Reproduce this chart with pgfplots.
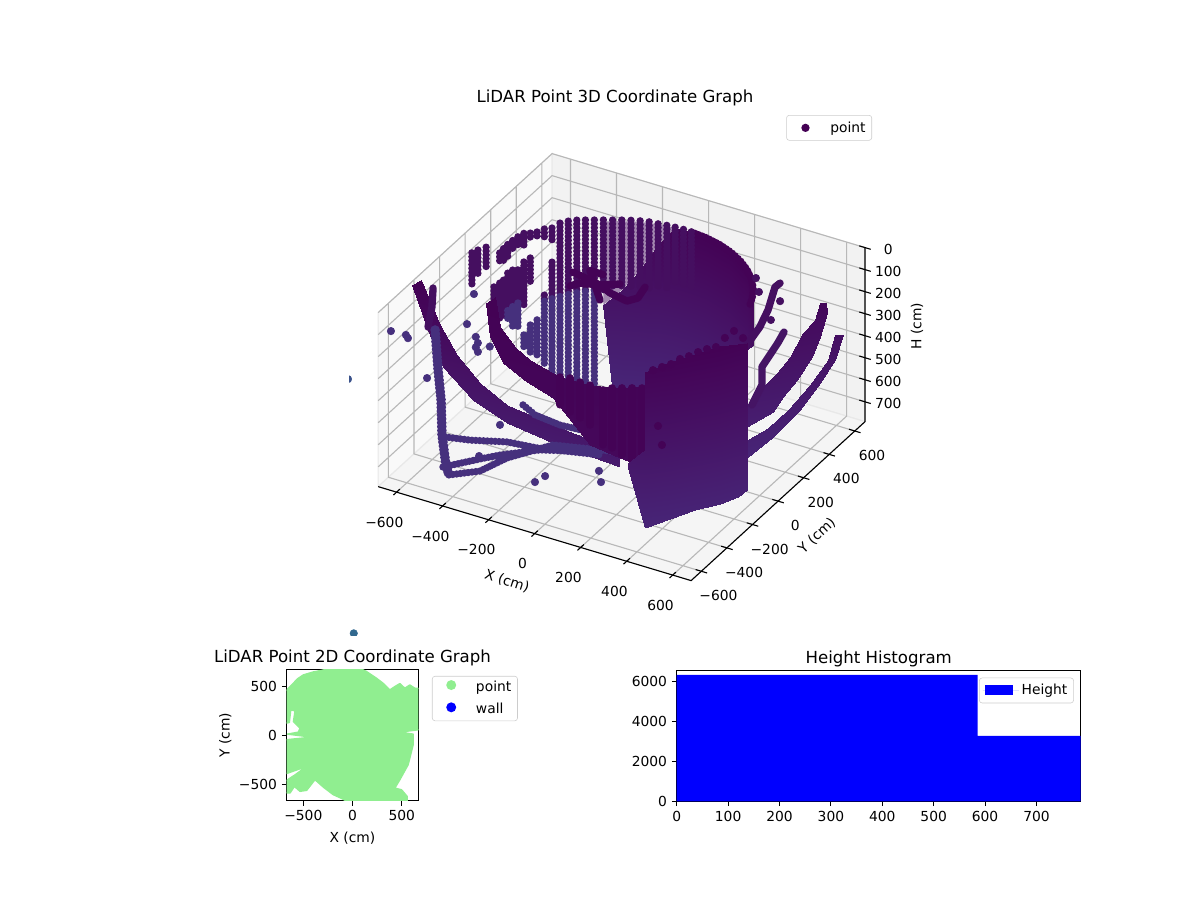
\documentclass[border=0pt]{standalone}
\usepackage{fontspec}
\setmainfont{DejaVu Sans}
\usepackage{pgfplots}
\pgfplotsset{compat=1.18}
\definecolor{vA}{RGB}{69,15,96}
\definecolor{vB}{RGB}{70,48,125}
\definecolor{vC}{RGB}{68,3,86}
\definecolor{vD}{RGB}{67,58,131}
\definecolor{gridc}{HTML}{B8B8B8}
\definecolor{lgreen}{RGB}{144,238,144}
\definecolor{vL}{RGB}{68,1,84}
\newcommand{\mpl}{\fontsize{10}{12}\selectfont}
\newcommand{\mplt}{\fontsize{12}{14}\selectfont}
\pgfplotsset{
 room/.style={
  x={(0.16629pt,-0.04994pt)},y={(0.09243pt,0.08448pt)},z={(0pt,-0.15921pt)},
  xmin=-680,xmax=680,ymin=-680,ymax=680,zmin=0,zmax=790,
  at={(6.216in,6.199in)},anchor=origin,clip=false},
 dots/.style={line width=5.3pt,line cap=round,dash pattern=on 0pt off 2.8pt,unbounded coords=jump},
 band/.style={surf,shader=interp,mesh/rows=2,point meta=z},
 stroke/.style={line width=5.3pt,line cap=round,line join=round},
 scat/.style={only marks,mark=*,mark size=2.7pt,mark options={draw=none}},
 flat2d/.style={scale only axis,tick align=outside,
  tick style={black,line width=0.8pt},major tick length=3.5pt,
  axis line style={line width=0.8pt},
  xtick pos=bottom,ytick pos=left,
  tick label style={font=\mpl},label style={font=\mpl},title style={font=\mplt,yshift=-7pt}},
 lbox/.style={font=\mpl,draw=black!20,rounded corners=2pt,inner xsep=2.5pt,inner ysep=1.5pt,legend cell align=left},
}
\newcommand{\legdot}[2]{\addlegendimage{legend image code/.code={\path[draw=none] (0,0) -- (0.375in,0);\fill[#1,draw=none,sharp corners] (0.155in,0) circle (#2);}}}
\begin{document}
\begin{tikzpicture}
\path (0,0) rectangle (12in,9in);
\begin{scope}
\clip (3.49in,2.64in) rectangle (12in,9in);
% panes and grid
\begin{axis}[room,hide axis]
\addplot3[fill=black!2.5,draw=black!9,line width=0.8pt] coordinates {(-680,-680,790)(-680,680,790)(-680,680,0)(-680,-680,0)(-680,-680,790)};
\addplot3[fill=black!5,draw=black!9,line width=0.8pt] coordinates {(-680,680,790)(680,680,790)(680,680,0)(-680,680,0)(-680,680,790)};
\addplot3[fill=black!4,draw=black!9,line width=0.8pt] coordinates {(-680,-680,790)(680,-680,790)(680,680,790)(-680,680,790)(-680,-680,790)};
\addplot3[gridc,line width=0.8pt,unbounded coords=jump] coordinates {
(-600,-680,790)(-600,680,790)(-600,680,0)(nan,nan,nan)
(-400,-680,790)(-400,680,790)(-400,680,0)(nan,nan,nan)
(-200,-680,790)(-200,680,790)(-200,680,0)(nan,nan,nan)
(0,-680,790)(0,680,790)(0,680,0)(nan,nan,nan)
(200,-680,790)(200,680,790)(200,680,0)(nan,nan,nan)
(400,-680,790)(400,680,790)(400,680,0)(nan,nan,nan)
(600,-680,790)(600,680,790)(600,680,0)(nan,nan,nan)
(680,-600,790)(-680,-600,790)(-680,-600,0)(nan,nan,nan)
(680,-400,790)(-680,-400,790)(-680,-400,0)(nan,nan,nan)
(680,-200,790)(-680,-200,790)(-680,-200,0)(nan,nan,nan)
(680,0,790)(-680,0,790)(-680,0,0)(nan,nan,nan)
(680,200,790)(-680,200,790)(-680,200,0)(nan,nan,nan)
(680,400,790)(-680,400,790)(-680,400,0)(nan,nan,nan)
(680,600,790)(-680,600,790)(-680,600,0)(nan,nan,nan)
(-680,-680,0)(-680,680,0)(680,680,0)(nan,nan,nan)
(-680,-680,100)(-680,680,100)(680,680,100)(nan,nan,nan)
(-680,-680,200)(-680,680,200)(680,680,200)(nan,nan,nan)
(-680,-680,300)(-680,680,300)(680,680,300)(nan,nan,nan)
(-680,-680,400)(-680,680,400)(680,680,400)(nan,nan,nan)
(-680,-680,500)(-680,680,500)(680,680,500)(nan,nan,nan)
(-680,-680,600)(-680,680,600)(680,680,600)(nan,nan,nan)
(-680,-680,700)(-680,680,700)(680,680,700)
};
\end{axis}
% data and ticks
\begin{axis}[room,
  colormap={vd}{rgb255(0cm)=(68,1,84); rgb255(1cm)=(72,40,122)},
  point meta min=0,point meta max=850,
  axis line style={draw=none},
  xtick={-600,-400,-200,0,200,400,600},
  xticklabels={−600,−400,−200,0,200,400,600},
  ytick={-600,-400,-200,0,200,400,600},
  yticklabels={−600,−400,−200,0,200,400,600},
  ztick={0,100,200,300,400,500,600,700},
  zticklabels={0,100,200,300,400,500,600,700},
  xtick pos=left,ytick pos=left,ztick pos=right,
  xticklabel pos=left,yticklabel pos=left,zticklabel pos=right,
  tick label style={font=\mpl},
  xticklabel style={anchor=center,xshift=-7pt,yshift=-20pt},
  yticklabel style={anchor=center,xshift=10pt,yshift=-17pt},
  zticklabel style={anchor=center,xshift=15pt,yshift=-3pt},
  tick style={draw=none},
  major tick length=5pt,tick align=center]
% edges and tick marks
\addplot3[black,line width=0.8pt] coordinates {(-680,-680,790)(680,-680,790)(680,680,790)(680,680,0)};
\addplot3[black,line width=0.8pt,unbounded coords=jump] coordinates {
(-600,-705,790)(-600,-655,790)(nan,nan,nan)
(-400,-705,790)(-400,-655,790)(nan,nan,nan)
(-200,-705,790)(-200,-655,790)(nan,nan,nan)
(0,-705,790)(0,-655,790)(nan,nan,nan)
(200,-705,790)(200,-655,790)(nan,nan,nan)
(400,-705,790)(400,-655,790)(nan,nan,nan)
(600,-705,790)(600,-655,790)(nan,nan,nan)
(705,-600,790)(655,-600,790)(nan,nan,nan)
(705,-400,790)(655,-400,790)(nan,nan,nan)
(705,-200,790)(655,-200,790)(nan,nan,nan)
(705,0,790)(655,0,790)(nan,nan,nan)
(705,200,790)(655,200,790)(nan,nan,nan)
(705,400,790)(655,400,790)(nan,nan,nan)
(705,600,790)(655,600,790)(nan,nan,nan)
(705,680,0)(655,680,0)(nan,nan,nan)
(705,680,100)(655,680,100)(nan,nan,nan)
(705,680,200)(655,680,200)(nan,nan,nan)
(705,680,300)(655,680,300)(nan,nan,nan)
(705,680,400)(655,680,400)(nan,nan,nan)
(705,680,500)(655,680,500)(nan,nan,nan)
(705,680,600)(655,680,600)(nan,nan,nan)
(705,680,700)(655,680,700)
};
% dome behind
\addplot3[band] coordinates {
(-301,399,419)(-242,437,353)(-179,467,258)(-112,487,134)(-44,498,41)(26,499,38)(95,491,40)(227,446,38)(341,366,41)(429,258,39)(483,129,39)
(-272,419,828)(-242,437,860)(-179,467,860)(-112,487,838)(-44,498,777)(26,499,755)(95,491,684)(227,446,573)(341,366,404)(429,258,297)(483,129,189)
};
\addplot3[fill=vA!50,draw=none] coordinates {(-301,399,40)(-242,437,40)(-179,467,40)(-112,487,40)(-44,498,41)(-112,487,134)(-179,467,258)(-242,437,353)(-301,399,419)(-301,399,40)};
\addplot3[dots,vC] coordinates {(26,499,38)(95,491,38)(163,473,38)(227,446,38)(287,410,38)(341,366,38)(389,315,38)(429,258,38)(460,195,38)(483,129,38)};
% columns, upper parts
\addplot3[dots,vA] coordinates {
(26,499,38)(26,499,300)(nan,nan,nan)
(-9,500,38)(-9,500,300)(nan,nan,nan)
(-44,498,38)(-44,498,300)(nan,nan,nan)
(-78,494,38)(-78,494,320)(nan,nan,nan)
(-112,487,38)(-112,487,330)(nan,nan,nan)
(-146,478,35)(-146,478,350)(nan,nan,nan)
(-179,467,35)(-179,467,350)(nan,nan,nan)
(-211,453,35)(-211,453,350)(nan,nan,nan)
(-242,437,35)(-242,437,350)(nan,nan,nan)
(-272,419,35)(-272,419,350)(nan,nan,nan)
(-301,399,33)(-301,399,350)(nan,nan,nan)
(-328,377,30)(-328,377,350)(nan,nan,nan)
(-354,354,26)(-354,354,350)(nan,nan,nan)
(-377,328,20)(-377,328,350)(nan,nan,nan)
(-399,301,17)(-399,301,350)(nan,nan,nan)
(-419,272,17)(-419,272,350)(nan,nan,nan)
(-437,242,29)(-437,242,83)(nan,nan,nan)
(-437,242,184)(-437,242,350)(nan,nan,nan)
(-453,211,22)(-453,211,72)(nan,nan,nan)
(-453,211,322)(-453,211,350)(nan,nan,nan)
(-467,179,23)(-467,179,50)(nan,nan,nan)
(-478,146,14)(-478,146,36)(nan,nan,nan)
(-478,146,127)(-478,146,250)(nan,nan,nan)
(-487,112,0)(-487,112,53)(nan,nan,nan)
(-487,112,130)(-487,112,334)(nan,nan,nan)
(-494,78,0)(-494,78,37)(nan,nan,nan)
(-494,78,150)(-494,78,300)(nan,nan,nan)
(-498,44,0)(-498,44,43)(nan,nan,nan)
(-498,44,134)(-498,44,300)(nan,nan,nan)
(-500,9,0)(-500,9,62)(nan,nan,nan)
(-500,9,130)(-500,9,300)(nan,nan,nan)
(-499,-26,0)(-499,-26,61)(nan,nan,nan)
(-499,-26,143)(-499,-26,315)(nan,nan,nan)
(-496,-61,0)(-496,-61,41)(nan,nan,nan)
(-496,-61,137)(-496,-61,296)(nan,nan,nan)
(-483,-129,114)(-483,-129,264)(nan,nan,nan)
(-561,-50,0)(-561,-50,104)(nan,nan,nan)
(-580,-80,3)(-580,-80,116)(nan,nan,nan)
(-595,-100,10)(-595,-100,156)
};
% columns, lower parts
\addplot3[dots,vB] coordinates {
(-328,377,350)(-328,377,790)(nan,nan,nan)
(-354,354,350)(-354,354,790)(nan,nan,nan)
(-377,328,350)(-377,328,770)(nan,nan,nan)
(-399,301,350)(-399,301,760)(nan,nan,nan)
(-419,272,350)(-419,272,730)(nan,nan,nan)
(-437,242,350)(-437,242,696)(nan,nan,nan)
(-453,211,350)(-453,211,640)(nan,nan,nan)
(-467,179,422)(-467,179,595)(nan,nan,nan)
(-478,146,431)(-478,146,567)(nan,nan,nan)
(-487,112,461)(-487,112,531)(nan,nan,nan)
(-494,78,300)(-494,78,409)(nan,nan,nan)
(-498,44,300)(-498,44,393)(nan,nan,nan)
(-500,9,300)(-500,9,352)
};
% scattered points
\addplot3[scat,vB] coordinates {
(-669,-600,123)(-604,-600,120)(-595,-600,132)(-475,-300,53)(-505,-300,199)(-467,-300,245)(-458,-300,270)(-406,-300,270)(-467,-300,292)(-458,-300,310)(-286,-600,570)(-43,-600,612)(1,-600,571)(244,-600,522)(235,-600,474)(-512,-600,287)(-195,-600,400)};
% far left band
\addplot3[band] coordinates {
(-649,-400,-9)(-567,-400,169)(-493,-400,282)(-393,-400,378)(-276,-400,441)(11,-400,478)(215,-400,491)
(-688,-400,26)(-619,-400,208)(-554,-400,356)(-423,-400,465)(-276,-400,523)(-76,-400,551)(215,-400,568)
};
\addplot3[stroke,vA] coordinates {(-597,-400,11)(-602,-400,99)(-619,-400,195)};
\addplot3[line width=7pt,line cap=round,line join=round,dash pattern=on 0pt off 2.8pt,vB] coordinates {(-477,-600,58)(-464,-600,236)(-451,-600,368)(-447,-600,525)(-430,-600,656)(-417,-600,697)};
\addplot3[dots,vB] coordinates {
(-434,-600,530)(-325,-600,510)(-165,-600,468)(-34,-600,454)(240,-600,400)(nan,nan,nan)
(-443,-600,669)(-282,-600,582)(-195,-600,537)(-21,-600,459)(240,-600,387)(nan,nan,nan)
(-417,-600,697)(-282,-600,637)(-165,-600,541)(35,-600,419)(326,-600,360)(nan,nan,nan)
(-95,-600,278)(-43,-600,307)(66,-600,319)(196,-600,310)
};
% inner dark arc
\addplot3[band,point meta=z/4] coordinates {
(-384,-300,38)(-362,-300,167)(-297,-300,237)(-232,-300,276)(-101,-300,312)(29,-300,308)(160,-300,281)(290,-300,226)
(-423,-300,78)(-405,-300,227)(-349,-300,327)(-245,-300,380)(-132,-300,417)(29,-300,580)(160,-300,598)(290,-300,612)
};
\addplot3[stroke,vC] coordinates {(86,-300,312)(86,-300,562)};
\addplot3[stroke,vC] coordinates {(125,-300,291)(125,-300,564)};
\addplot3[stroke,vC] coordinates {(168,-300,277)(168,-300,581)};
\addplot3[stroke,vC] coordinates {(212,-300,263)(212,-300,590)};
\addplot3[stroke,vC] coordinates {(255,-300,250)(255,-300,601)};
\addplot3[stroke,vC] coordinates {(29,-300,308)(29,-300,490)};
\addplot3[stroke,vC] coordinates {(-14,-300,308)(-14,-300,471)};
\addplot3[stroke,vC] coordinates {(-58,-300,303)(-58,-300,458)};
\addplot3[stroke,vC] coordinates {(-101,-300,312)(-101,-300,439)};
% central curl
\addplot3[stroke,vC] coordinates {(-224,0,97)(-181,0,70)(-94,0,52)(-7,0,20)};
\addplot3[stroke,vC] coordinates {(-50,0,74)(23,0,88)(71,0,59)(102,0,0)};
\addplot3[stroke,vC] coordinates {(-211,0,30)(-94,0,52)(-50,0,74)};
\addplot3[stroke,vC] coordinates {(-137,0,0)(-81,0,0)};
\addplot3[stroke,vC] coordinates {(-137,0,0)(-94,0,120)};
% right bands
\addplot3[band] coordinates {
(620,436,141)(607,420,213)(577,381,261)(543,340,359)(510,298,420)(479,260,464)(466,243,495)(433,201,538)
(635,455,146)(638,459,193)(620,436,295)(599,411,379)(561,362,469)(525,317,534)(500,285,593)(433,201,637)
};
\addplot3[band] coordinates {
(658,485,300)(640,462,407)(594,404,504)(538,333,597)(487,269,661)(433,201,696)
(679,510,307)(658,485,414)(620,436,504)(569,372,609)(500,285,707)(433,201,778)
};
\addplot3[stroke,vA] coordinates {(522,300,9)(500,300,34)(481,280,133)(462,250,200)(433,201,265)};
\addplot3[stroke,vA!85!vB] coordinates {(528,320,240)(512,301,284)(471,250,379)(471,250,461)(446,217,542)};
\addplot3[scat,vA] coordinates {(417,300,19)(430,300,78)(522,300,91)(482,300,189)};
% front block
\addplot3[band] coordinates {
(289,-470,490)(352,-450,422)
(289,-470,513)(352,-450,776)
};
\addplot3[band] coordinates {
(352,-450,68)(421,-380,38)(486,-300,24)(550,-220,10)(589,-150,25)(612,-120,30)
(352,-450,776)(421,-380,751)(486,-300,732)(550,-220,727)(589,-150,720)(612,-120,697)
};
\addplot3[scat,vC] coordinates {
(372,-424,67)(396,-396,60)(419,-367,55)(442,-338,40)(465,-310,35)(488,-280,25)(511,-252,19)(534,-223,18)(521,-130,30)(544,-100,7)(572,-80,41)(325,-300,401)(342,-300,482)};
% outliers, cut by the edge of the 3D panel
\addplot3[scat,color={rgb,255:red,59;green,82;blue,139}] coordinates {(-800,-700,329)};
\addplot3[scat,color={rgb,255:red,49;green,104;blue,142}] coordinates {(-700,-835,1380)};
\end{axis}
\end{scope}
\node[font=\mplt] at (6.15in,8.02in) {LiDAR Point 3D Coordinate Graph};
\node[font=\mpl,rotate=-18] at (5.07in,3.19in) {X (cm)};
\node[font=\mpl,rotate=43] at (8.17in,3.64in) {Y (cm)};
\node[font=\mpl,rotate=90] at (9.17in,5.74in) {H (cm)};
% 2D panel
\begin{axis}[flat2d,at={(2.867in,0.993in)},anchor=south west,width=1.316in,height=1.314in,
  xmin=-669,xmax=667,ymin=-662,ymax=672,
  xtick={-500,0,500},xticklabels={−500,0,500},
  ytick={-500,0,500},yticklabels={−500,0,500},
  xlabel={X (cm)},ylabel={Y (cm)},title={LiDAR Point 2D Coordinate Graph},
  xlabel style={yshift=-1.5pt},ylabel style={yshift=-1.5pt},
  legend style={at={(1.104,0.949)},anchor=north west,lbox,row sep=3pt}]
\addplot[forget plot,fill=lgreen,draw=lgreen,line width=1pt,line join=round] coordinates {
(-686,446)(-618,513)(-560,575)(-500,615)(-400,645)(-297,665)(-230,699)(41,699)(142,649)(243,581)(310,530)(378,463)(429,497)(480,527)(530,480)(581,513)(632,480)(716,480)(716,64)(480,34)(615,14)(615,-95)(564,-297)(480,-449)(429,-534)(497,-551)(554,-618)(554,-686)(-27,-686)(-110,-640)(-196,-601)(-290,-530)(-382,-449)(-466,-557)(-534,-567)(-591,-517)(-635,-584)(-686,-584)(-686,-466)(-584,-399)(-466,-314)(-686,-392)(-686,-44)(-415,-17)(-662,14)(-551,34)(-534,74)(-601,142)(-584,250)(-628,260)(-642,132)(-686,122)(-686,446)};
\legdot{lgreen}{3.6pt}
\legdot{blue}{3.6pt}
\legend{point,wall}
\end{axis}
% histogram
\begin{axis}[flat2d,at={(6.767in,0.987in)},anchor=south west,width=4.04in,height=1.308in,
  xmin=0,xmax=786,ymin=0,ymax=6540,
  xtick={0,100,200,300,400,500,600,700},ytick={0,2000,4000,6000},
  xticklabels={0,100,200,300,400,500,600,700},yticklabels={0,2000,4000,6000},
  title={Height Histogram},
  legend style={at={(0.983,0.945)},anchor=north east,lbox,inner ysep=2.5pt},
  legend image code/.code={\path[draw=none] (0,0) -- (0.36in,0);\fill[blue,draw=none,sharp corners] (0.025in,-0.05in) rectangle (0.305in,0.05in);}]
\addplot[ybar interval,fill=blue,draw=none] coordinates {(0,6315)(585.6,3265)(786,3265)};
\addlegendentry{Height}
\end{axis}
% 3D legend via empty helper axis
\begin{axis}[hide axis,scale only axis,at={(0,0)},anchor=south west,width=12in,height=9in,xmin=0,xmax=1200,ymin=0,ymax=900,
  legend style={at={(0.7267,0.8722)},anchor=north east,lbox,inner ysep=2.5pt}]
\legdot{vL}{3pt}
\addlegendentry{point}
\addplot[draw=none,forget plot] coordinates {(0,0)};
\end{axis}
\end{tikzpicture}
\end{document}
